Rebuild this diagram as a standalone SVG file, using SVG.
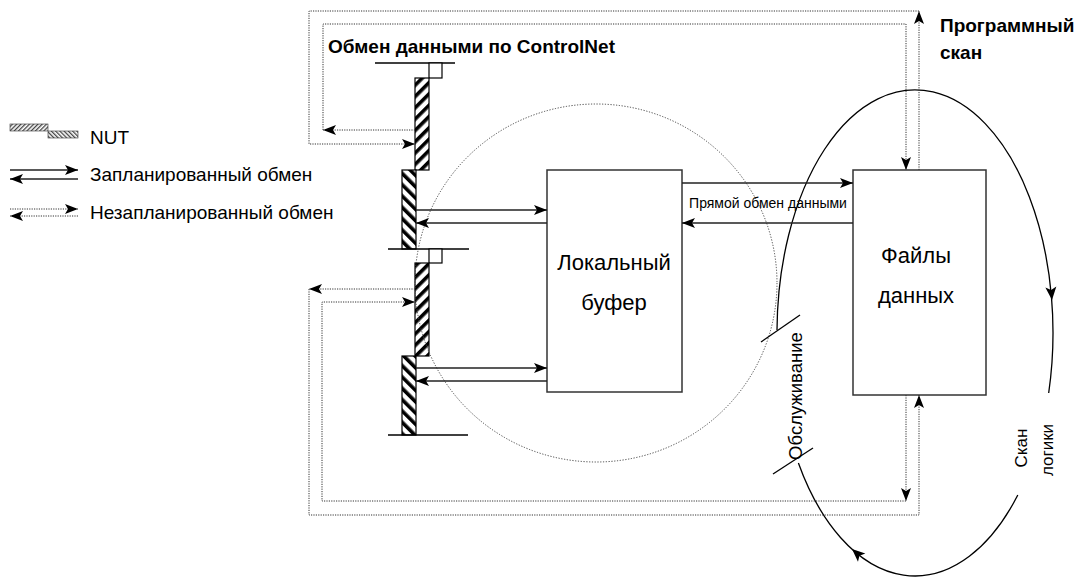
<svg xmlns="http://www.w3.org/2000/svg" xmlns:xlink="http://www.w3.org/1999/xlink" width="1080" height="578" viewBox="0 0 1080 578">
  <style>
    text { font-family: "Liberation Sans", Arial, sans-serif; fill: #000; }
    .bold { font-weight: bold; font-size: 19px; }
    .lbl { font-size: 19px; }
    .big { font-size: 22px; }
    .box { fill: #fff; stroke: #333; stroke-width: 1.5; }
    .sched { fill: none; stroke: #222; stroke-width: 1.5; }
    .unsched { fill: none; stroke: #333; stroke-width: 1; stroke-dasharray: 1.2 1.2; }
    .scan { fill: none; stroke: #000; stroke-width: 1.3; }
    .tick { fill: none; stroke: #000; stroke-width: 1.3; }
    .rule { fill: none; stroke: #000; stroke-width: 1.5; }
    .bar { stroke: #000; stroke-width: 1.2; }
  </style>
  <defs>
    <!-- filled barbed arrowhead -->
    <marker id="arr" viewBox="0 0 13 10" refX="13" refY="5" markerWidth="13" markerHeight="10" markerUnits="userSpaceOnUse" orient="auto">
      <path d="M0,0 L13,5 L0,10 L3,5 Z" fill="#000"/>
    </marker>
    <path id="head" d="M0,0 L-13,-5.5 L-10,0 L-13,5.5 Z" fill="#000"/>
    <!-- "/" hatch for unscheduled slots -->
    <pattern id="hatchUp" width="8" height="8" patternUnits="userSpaceOnUse" patternTransform="rotate(45)">
      <rect width="8" height="8" fill="#fff"/>
      <rect width="3.6" height="8" fill="#000"/>
    </pattern>
    <!-- "\" hatch for scheduled slots -->
    <pattern id="hatchDown" width="8" height="8" patternUnits="userSpaceOnUse" patternTransform="rotate(-45)">
      <rect width="8" height="8" fill="#fff"/>
      <rect width="3.6" height="8" fill="#000"/>
    </pattern>
    <!-- fine hatches for the legend swatch -->
    <pattern id="fineUp" width="3" height="3" patternUnits="userSpaceOnUse" patternTransform="rotate(45)">
      <rect width="3" height="3" fill="#fff"/>
      <rect width="1.3" height="3" fill="#444"/>
    </pattern>
    <pattern id="fineDown" width="3" height="3" patternUnits="userSpaceOnUse" patternTransform="rotate(-45)">
      <rect width="3" height="3" fill="#fff"/>
      <rect width="1.3" height="3" fill="#444"/>
    </pattern>
  </defs>

  <rect width="1080" height="578" fill="#fff"/>

  <!-- legend -->
  <g id="legend">
    <rect x="10" y="124" width="38" height="7" fill="url(#fineUp)" stroke="#333" stroke-width="0.6"/>
    <rect x="48" y="131" width="30" height="7" fill="url(#fineDown)" stroke="#333" stroke-width="0.6"/>
    <text class="lbl" x="90" y="144">NUT</text>
    <line class="sched" x1="10" y1="170" x2="78" y2="170" marker-end="url(#arr)"/>
    <line class="sched" x1="78" y1="179" x2="10" y2="179" marker-end="url(#arr)"/>
    <text class="lbl" x="90" y="181">Запланированный обмен</text>
    <line class="unsched" x1="10" y1="209" x2="78" y2="209" marker-end="url(#arr)"/>
    <line class="unsched" x1="78" y1="216" x2="10" y2="216" marker-end="url(#arr)"/>
    <text class="lbl" x="90" y="219">Незапланированный обмен</text>
  </g>

  <!-- titles -->
  <text id="title-net" class="bold" x="328" y="53" font-size="20">Обмен данными по ControlNet</text>
  <g id="title-scan">
    <text class="bold" x="940" y="32">Программный</text>
    <text class="bold" x="940" y="59">скан</text>
  </g>

  <!-- network update time line -->
  <g id="nut-timeline">
    <line class="rule" x1="375" y1="63" x2="455" y2="63"/>
    <rect x="429" y="63" width="13" height="15" fill="#fff" class="bar"/>
    <rect x="415" y="78" width="14" height="92" fill="url(#hatchUp)" class="bar"/>
    <rect x="402" y="170" width="14" height="79" fill="url(#hatchDown)" class="bar"/>
    <line class="rule" x1="388" y1="249" x2="469" y2="249"/>
    <rect x="429" y="249" width="13" height="14" fill="#fff" class="bar"/>
    <rect x="415" y="263" width="14" height="93" fill="url(#hatchUp)" class="bar"/>
    <rect x="402" y="356" width="14" height="79" fill="url(#hatchDown)" class="bar"/>
    <line class="rule" x1="388" y1="435" x2="468" y2="435"/>
  </g>

  <!-- buffer service area -->
  <ellipse id="service-area" cx="596" cy="283" rx="181" ry="179" fill="none" stroke="#444" stroke-width="1" stroke-dasharray="1.2 1.6"/>

  <g id="local-buffer">
    <rect class="box" x="547" y="170" width="135" height="222"/>
    <text class="big" x="614" y="270" text-anchor="middle">Локальный</text>
    <text class="big" x="614" y="310" text-anchor="middle">буфер</text>
  </g>

  <g id="data-files">
    <rect class="box" x="853" y="170" width="133" height="225"/>
    <text class="big" x="916" y="263" text-anchor="middle">Файлы</text>
    <text class="big" x="916" y="303" text-anchor="middle">данных</text>
  </g>

  <!-- program scan cycle -->
  <g id="program-scan">
    <path class="scan" d="M777,330 A138,243 0 1,1 1048.7,393"/>
    <path class="scan" d="M1017.8,495 A138,243 0 0,1 798.4,463"/>
    <use xlink:href="#head" transform="translate(1052,300) rotate(85)"/>
    <use xlink:href="#head" transform="translate(852,549) rotate(222)"/>
    <line class="tick" x1="761" y1="342" x2="800" y2="315"/>
    <line class="tick" x1="773" y1="474" x2="813" y2="448"/>
    <text font-size="18.5" transform="translate(802,396) rotate(-90)" text-anchor="middle">Обслуживание</text>
    <text font-size="17" transform="translate(1027,448) rotate(-90)" text-anchor="middle">Скан</text>
    <text font-size="17" transform="translate(1053,450) rotate(-90)" text-anchor="middle">логики</text>
  </g>

  <!-- connectors -->
  <g id="connectors">
    <!-- scheduled transfers -->
    <line class="sched" x1="416" y1="210" x2="547" y2="210" marker-end="url(#arr)"/>
    <line class="sched" x1="547" y1="223" x2="416" y2="223" marker-end="url(#arr)"/>
    <line class="sched" x1="416" y1="368" x2="547" y2="368" marker-end="url(#arr)"/>
    <line class="sched" x1="547" y1="381" x2="416" y2="381" marker-end="url(#arr)"/>
    <!-- direct data exchange -->
    <line class="sched" x1="682" y1="183" x2="853" y2="183" marker-end="url(#arr)"/>
    <line class="sched" x1="853" y1="223" x2="682" y2="223" marker-end="url(#arr)"/>
    <text x="768" y="208" font-size="14" text-anchor="middle">Прямой обмен данными</text>
    <!-- unscheduled loops, upper -->
    <path class="unsched" d="M919,170 V11" marker-end="url(#arr)"/>
    <path class="unsched" d="M919,11 H309 V144 H415" marker-end="url(#arr)"/>
    <path class="unsched" d="M415,130 H323" marker-end="url(#arr)"/>
    <path class="unsched" d="M323,130 V24 H906 V170" marker-end="url(#arr)"/>
    <!-- unscheduled loops, lower -->
    <path class="unsched" d="M415,289 H309" marker-end="url(#arr)"/>
    <path class="unsched" d="M309,289 V515 H919 V395" marker-end="url(#arr)"/>
    <path class="unsched" d="M906,395 V501" marker-end="url(#arr)"/>
    <path class="unsched" d="M906,501 H322 V302 H415" marker-end="url(#arr)"/>
  </g>
</svg>
